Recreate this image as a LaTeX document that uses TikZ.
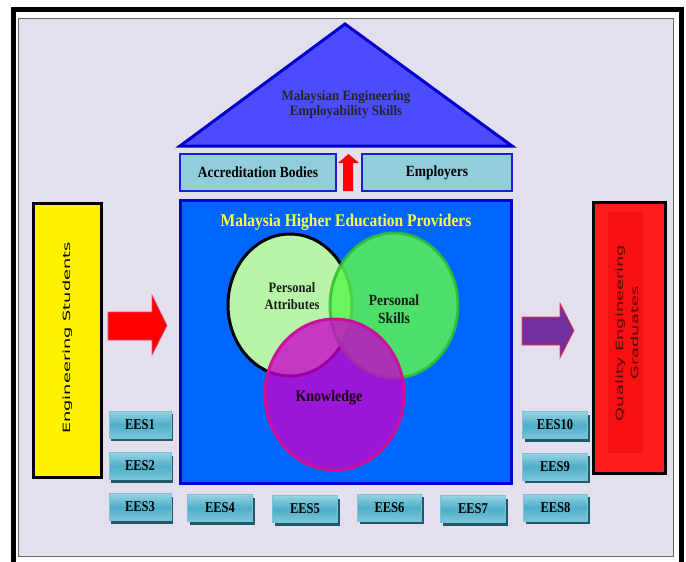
\documentclass[tikz,border=0pt]{standalone}
\usepackage{fontspec}
\setmainfont{Liberation Serif}
\newfontfamily\sansf{DejaVu Sans}
\usetikzlibrary{shadows,shapes.geometric}
\definecolor{panel}{RGB}{227,223,236}
\definecolor{roofblue}{RGB}{75,75,255}
\definecolor{darkblue}{RGB}{0,0,204}
\definecolor{boxblue}{RGB}{146,205,220}
\definecolor{boxedge}{RGB}{30,30,220}
\definecolor{mainblue}{RGB}{0,102,255}
\definecolor{titleyellow}{RGB}{255,255,60}
\definecolor{attrgreen}{RGB}{184,245,168}
\definecolor{skillgreen}{RGB}{90,245,80}
\definecolor{skilledge}{RGB}{50,190,50}
\definecolor{knowfill}{RGB}{201,0,205}
\definecolor{knowedge}{RGB}{204,17,153}
\definecolor{btntop}{RGB}{150,212,228}
\definecolor{btnmid}{RGB}{78,174,200}
\definecolor{btnbot}{RGB}{125,198,218}
\definecolor{btnedge}{RGB}{120,195,215}
\definecolor{btnshadow}{RGB}{33,89,104}
\definecolor{gradred}{RGB}{255,28,28}
\definecolor{gradinner}{RGB}{246,16,16}
\definecolor{gradtext}{RGB}{80,10,10}
\definecolor{arrowpurple}{RGB}{112,48,160}
\newcommand{\vs}[2][1.15]{\scalebox{1}[#1]{#2}}
\newcommand{\hs}[1]{\scalebox{1.78}[1]{#1}}
\begin{document}
\begin{tikzpicture}[x=1pt,y=-1pt,
  labelbox/.style={draw=boxedge, line width=2pt, fill=boxblue, minimum height=37pt, inner sep=0pt, font=\fontsize{13.5}{14}\selectfont\bfseries},
  eesbtn/.style={draw=btnedge, line width=1pt, top color=btntop, bottom color=btnbot, middle color=btnmid,
     minimum width=62pt, minimum height=27pt, inner sep=0pt, font=\fontsize{12.5}{13}\selectfont\bfseries,
     drop shadow={shadow xshift=2pt, shadow yshift=-3pt, fill=btnshadow, opacity=1}},
  venn/.style={ellipse, inner sep=0pt, line width=3pt},
  sidebox/.style={draw=black, line width=3pt, inner sep=0pt}
]
\useasboundingbox (0,0) rectangle (686,562);
% outer frame
\fill[white] (0,0) rectangle (686,562);
\draw[line width=5pt, black] (13,580) -- (13,9) -- (681,9) -- (681,580);
\draw[fill=panel, draw=gray!80!black, line width=1pt] (18,18) rectangle (673,556);

% roof
\draw[fill=roofblue, draw=darkblue, line width=3pt, line join=miter] (180,146) -- (345,24) -- (512,146) -- cycle;
\node[font=\fontsize{13}{13}\selectfont\bfseries, text=black!85] (roof) at (346,105)
  {\vs[1.1]{\begin{tabular}{@{}c@{}}Malaysian Engineering\\[0pt]Employability Skills\end{tabular}}};

% accreditation / employers
\node[labelbox, minimum width=156pt] (acc) at (258,172.5) {\vs{Accreditation Bodies}};
\node[labelbox, minimum width=150pt] (emp) at (437,172.5) {\vs{Employers}};
\fill[red] (343,191) -- (343,163) -- (338,163) -- (348.5,154) -- (359,163) -- (353,163) -- (353,191) -- cycle;

% main box
\node[draw=darkblue, fill=mainblue, line width=3pt, minimum width=331pt, minimum height=283pt, inner sep=0pt] (hep) at (345.5,341.5) {};
\node[text=titleyellow, font=\fontsize{15.5}{16}\selectfont\bfseries] (title) at (346,222) {\vs{Malaysia Higher Education Providers}};

% venn
\node[venn, draw=black, fill=attrgreen, minimum width=124pt, minimum height=142pt] (attr) at (290,305) {};
\node[venn, draw=skilledge, fill=skillgreen, opacity=0.85, minimum width=128pt, minimum height=145pt] (skill) at (394,305.5) {};
\node[venn, draw=knowedge, fill=knowfill, fill opacity=0.77, minimum width=139pt, minimum height=151pt] (know) at (334.5,394.5) {};
\node[font=\fontsize{12.5}{13}\selectfont\bfseries, text=black!90] (attrtxt) at (292,298)
  {\vs{\begin{tabular}{@{}c@{}}Personal\\[1pt]Attributes\end{tabular}}};
\node[font=\fontsize{13.5}{14}\selectfont\bfseries, text=black!90] (skilltxt) at (394,311)
  {\vs{\begin{tabular}{@{}c@{}}Personal\\[2pt]Skills\end{tabular}}};
\node[font=\fontsize{14}{14}\selectfont\bfseries, text=black!85!purple] (knowtxt) at (329,398) {\vs{Knowledge}};

% engineering students
\node[sidebox, fill=yellow, minimum width=68pt, minimum height=274pt] (stud) at (67,340) {};
\node[rotate=90, font=\sansf\fontsize{10}{12}\selectfont] (studtxt) at (68,338) {\hs{Engineering Students}};
\draw[fill=red, draw=purple!70, line width=0.6pt] (108,312) -- (152,312) -- (152,295) -- (167,325.5) -- (152,355) -- (152,340) -- (108,340) -- cycle;

% quality graduates
\node[sidebox, fill=gradred, minimum width=72pt, minimum height=271pt] (grad) at (629,337.5) {};
\fill[gradinner] (608,212) rectangle (643,453);
\node[rotate=90, text=gradtext, font=\sansf\fontsize{10}{14.5}\selectfont] (gradtxt) at (628,333)
  {\hs{\begin{tabular}{@{}c@{}}Quality Engineering\\Graduates\end{tabular}}};
\draw[fill=arrowpurple, draw=red!80, line width=0.6pt] (522,317) -- (560,317) -- (560,303) -- (574,330.5) -- (560,358) -- (560,345) -- (522,345) -- cycle;

% EES buttons
\node[eesbtn] (e1) at (140,424.5) {\vs[1.2]{EES1}};
\node[eesbtn] (e2) at (140,466) {\vs[1.2]{EES2}};
\node[eesbtn] (e3) at (140,507) {\vs[1.2]{EES3}};
\node[eesbtn, minimum width=65pt] (e4) at (220,508) {\vs[1.2]{EES4}};
\node[eesbtn, minimum width=65pt] (e5) at (305,509) {\vs[1.2]{EES5}};
\node[eesbtn, minimum width=64pt] (e6) at (389.5,507.5) {\vs[1.2]{EES6}};
\node[eesbtn, minimum width=65pt] (e7) at (473,509) {\vs[1.2]{EES7}};
\node[eesbtn, minimum width=64pt] (e8) at (555.5,507.5) {\vs[1.2]{EES8}};
\node[eesbtn, minimum width=65pt] (e9) at (555,466.5) {\vs[1.2]{EES9}};
\node[eesbtn, minimum width=65pt] (e10) at (555,425) {\vs[1.2]{EES10}};
\end{tikzpicture}
\end{document}
